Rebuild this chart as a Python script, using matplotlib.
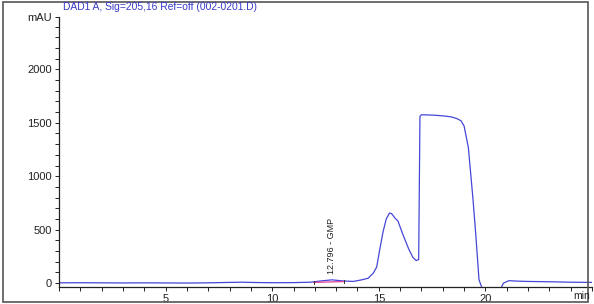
import matplotlib
matplotlib.use("Agg")
import matplotlib.pyplot as plt
from matplotlib.patches import Rectangle
from matplotlib.ticker import MultipleLocator

plt.rcParams['font.family'] = ['Liberation Sans', 'DejaVu Sans']

# Chromatogramme DAD1 A (temps en min, signal en mAU)
temps = [0.0, 1.0, 2.0, 3.0, 4.0, 5.0, 6.0, 7.0, 8.0, 8.6, 9.2, 10.0, 11.0,
         11.8, 12.3, 12.8, 13.3, 13.8, 14.2, 14.5, 14.75, 14.9, 15.05, 15.2,
         15.35, 15.5, 15.6, 15.75, 15.9, 16.1, 16.4, 16.6, 16.75, 16.87,
         16.93, 17.0, 17.5, 18.0, 18.4, 18.65, 18.85, 19.0, 19.2, 19.42,
         19.55, 19.7, 19.82, 19.9, 20.2, 20.5, 20.7, 20.85, 21.1, 21.5,
         22.0, 23.0, 24.0, 25.0]
signal = [2, 3, 2, 1, 2, 1, 0, 2, 6, 8, 5, 3, 4,
          8, 20, 30, 20, 15, 30, 45, 95, 150, 320, 480,
          600, 655, 650, 610, 580, 470, 320, 240, 210, 220,
          1560, 1575, 1572, 1565, 1555, 1540, 1520, 1470, 1270, 780,
          450, 30, -35, -100, -150, -150, -60, 0, 22, 18,
          15, 12, 8, 6]

# Ligne de base du pic GMP
base_temps = [11.95, 13.36]
base_signal = [6, 14]
pic_label = "12.796 - GMP"
pic_temps = 12.796

titre = "DAD1 A, Sig=205,16 Ref=off (002-0201.D)"

fig = plt.figure(figsize=(5.94, 3.04), dpi=100)
ax = fig.add_axes([59 / 594, 17 / 304, 533 / 594, 270 / 304])

ax.plot(temps, signal, color='#4646d8', linewidth=0.9)
ax.plot(base_temps, base_signal, color='#e0409a', linewidth=0.9)
for t, s in zip(base_temps, base_signal):
    ax.plot([t, t], [s - 15, s + 15], color='#333333', linewidth=0.7)

ax.text(pic_temps, 85, pic_label, rotation=90, ha='center', va='bottom',
        fontsize=6.5, color='#222222')

ax.set_xlim(0, 25)
ax.set_ylim(-37, 2490)

ax.xaxis.set_major_locator(MultipleLocator(5))
ax.xaxis.set_minor_locator(MultipleLocator(1))
ax.set_yticks([0, 500, 1000, 1500, 2000, 2490])
ax.set_yticklabels(['0', '500', '1000', '1500', '2000', 'mAU'])
ax.yaxis.set_minor_locator(MultipleLocator(100))
ax.set_xticks([5, 10, 15, 20])

for s in ['top', 'right']:
    ax.spines[s].set_visible(False)
for s in ['left', 'bottom']:
    ax.spines[s].set_color('#222222')
    ax.spines[s].set_linewidth(0.9)

ax.tick_params(which='both', direction='out', length=3, width=0.7,
               color='#222222', labelsize=8, labelcolor='#222222', pad=2)

fig.text(582 / 594, 1 - 296 / 304, 'min', ha='center', va='center',
         fontsize=7.5, color='#222222')

fig.text(63 / 594, 1 - 7 / 304, titre, ha='left', va='center',
         fontsize=7.4, color='#3a3ac8')

fig.patches.append(Rectangle((3 / 594, 2 / 304), 585 / 594, 300 / 304,
                             transform=fig.transFigure, fill=False,
                             edgecolor='#555555', linewidth=1.2))

fig.savefig('out.png', dpi=100)
